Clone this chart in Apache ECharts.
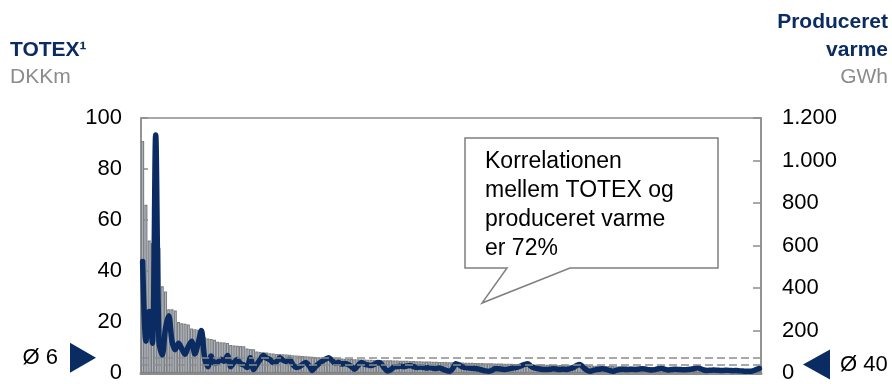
<!DOCTYPE html>
<html>
<head>
<meta charset="utf-8">
<script src="https://cdn.jsdelivr.net/npm/echarts@6/dist/echarts.min.js"></script>
<style>
  html, body { margin: 0; padding: 0; background: #ffffff; }
  #chart { width: 892px; height: 384px; }
</style>
</head>
<body>
<div id="chart"></div>
<script>
// TOTEX per selskab (DKKm), sorteret faldende
const totex = [
  91, 66, 52, 51, 50, 49, 34, 32, 25, 25,
  24.5, 20, 19.5, 19.3, 19, 17.5, 17.2, 17, 14.5, 14,
  13.5, 13.3, 13, 12.3, 12.1, 12, 11.8, 11, 10.8, 10.7,
  10.6, 10.5, 9.6, 9.4, 9.3, 8.4, 8.2, 8.1, 8.0, 7.7,
  7.6, 7.5, 7.5, 7.4, 7.3, 7.2, 7.0, 6.9, 6.8, 6.7,
  6.6, 6.5, 6.4, 6.3, 6.2, 6.1, 6.0, 5.9, 5.9, 5.8,
  5.7, 5.7, 5.6, 5.5, 5.5, 5.4, 5.4, 5.3, 5.3, 5.2,
  5.2, 5.1, 5.1, 5.1, 5.0, 5.0, 5.0, 4.9, 4.9, 4.8,
  4.8, 4.8, 4.7, 4.7, 4.6, 4.6, 4.5, 4.5, 4.5, 4.4,
  4.4, 4.3, 4.3, 4.3, 4.2, 4.2, 4.2, 4.1, 4.1, 4.0,
  4.0, 4.0, 3.9, 3.9, 3.9, 3.8, 3.8, 3.8, 3.7, 3.7,
  3.7, 3.6, 3.6, 3.6, 3.5, 3.5, 3.5, 3.4, 3.4, 3.4,
  3.3, 3.3, 3.3, 3.2, 3.2, 3.2, 3.1, 3.1, 3.1, 3.0,
  3.0, 3.0, 3.0, 2.9, 2.9, 2.9, 2.9, 2.8, 2.8, 2.8,
  2.8, 2.7, 2.7, 2.7, 2.7, 2.6, 2.6, 2.6, 2.6, 2.5,
  2.5, 2.5, 2.5, 2.4, 2.4, 2.4, 2.4, 2.3, 2.3, 2.3,
  2.3, 2.2, 2.2, 2.2, 2.2, 2.1, 2.1, 2.1, 2.1, 2.0,
  2.0, 2.0, 2.0, 1.9, 1.9, 1.9, 1.8, 1.8, 1.8, 1.7,
  1.7, 1.6, 1.6, 1.5, 1.5, 1.4, 1.3, 1.2, 1.0, 0.8
];

// Produceret varme per selskab (GWh), samme rækkefølge
const varme = [
  525, 150, 290, 140, 1120, 150, 85, 210, 270, 150,
  110, 140, 115, 88, 125, 150, 90, 140, 200, 70,
  30, 80, 45, 50, 65, 55, 82, 30, 50, 63,
  44, 38, 26, 72, 16, 40, 63, 82, 70, 63,
  49, 52, 72, 60, 54, 63, 40, 26, 30, 40,
  50, 35, 12, 30, 44, 55, 65, 72, 60, 45,
  50, 42, 45, 40, 30, 18, 35, 49, 42, 38,
  35, 40, 49, 45, 25, 10, 15, 28, 30, 32,
  30, 33, 35, 30, 26, 28, 26, 24, 26, 22,
  21, 24, 18, 12, 8, 20, 44, 38, 28, 26,
  24, 22, 21, 18, 14, 10, 8, 12, 21, 20,
  18, 16, 18, 22, 25, 28, 34, 40, 44, 32,
  24, 21, 18, 16, 16, 18, 20, 18, 17, 18,
  16, 20, 26, 35, 40, 28, 14, 8, 12, 16,
  18, 20, 17, 12, 8, 12, 16, 18, 16, 17,
  18, 16, 18, 20, 19, 16, 14, 16, 20, 22,
  18, 14, 16, 18, 17, 16, 15, 16, 18, 20,
  25, 20, 14, 12, 13, 14, 13, 12, 12, 13,
  12, 11, 12, 10, 9, 8, 8, 10, 16, 22
];

// Selskaber (nummereret)
const companies = totex.map((_, i) => String(i + 1));

// Akser
const totexTicks = [0, 20, 40, 60, 80, 100];
const varmeTicks = [0, 200, 400, 600, 800, 1000, 1200];

// Gennemsnit
const avgTotex = 6;
const avgVarme = 40;

const calloutLines = ['Korrelationen', 'mellem TOTEX og', 'produceret varme', 'er 72%'];

const NAVY = '#0b2c62';
const GREY = '#8c8c8c';
const BAR_EDGE = '#7f7f7f';
const FONT = '"Liberation Sans", Arial, sans-serif';

const fmtThousands = v => String(v).replace(/\B(?=(\d{3})+(?!\d))/g, '.');

const chart = echarts.init(document.getElementById('chart'), null, { renderer: 'canvas' });

const option = {
  animation: false,
  backgroundColor: '#ffffff',
  grid: {
    left: 141, right: 131, top: 118, bottom: 8,
    show: true, borderColor: GREY, borderWidth: 1.5, backgroundColor: 'transparent'
  },
  xAxis: {
    type: 'category',
    data: companies,
    boundaryGap: true,
    axisLine: { show: true, lineStyle: { color: GREY, width: 3 } },
    axisTick: { show: false },
    axisLabel: { show: false },
    splitLine: { show: false }
  },
  yAxis: [
    {
      type: 'value', position: 'left',
      min: totexTicks[0], max: totexTicks[totexTicks.length - 1], interval: 20,
      axisLine: { show: true, lineStyle: { color: GREY, width: 1.5 } },
      axisTick: { show: true, inside: true, length: 7, lineStyle: { color: GREY, width: 1.5 } },
      axisLabel: { color: '#000', fontSize: 22, fontFamily: FONT, margin: 19 },
      splitLine: { show: false }
    },
    {
      type: 'value', position: 'right',
      min: varmeTicks[0], max: varmeTicks[varmeTicks.length - 1], interval: 200,
      axisLine: { show: true, lineStyle: { color: GREY, width: 1.5 } },
      axisTick: { show: true, inside: true, length: 8, lineStyle: { color: GREY, width: 1.5 } },
      axisLabel: { color: '#000', fontSize: 22, fontFamily: FONT, margin: 21, formatter: fmtThousands },
      splitLine: { show: false }
    }
  ],
  series: [
    {
      name: 'Gns. TOTEX', type: 'line', yAxisIndex: 0, z: 1,
      data: companies.map(() => null), showSymbol: false, silent: true,
      markLine: {
        silent: true, symbol: 'none', label: { show: false },
        lineStyle: { color: GREY, type: [8, 4], width: 1.5 },
        data: [{ yAxis: avgTotex }]
      }
    },
    {
      name: 'Gns. varme', type: 'line', yAxisIndex: 1, z: 1,
      data: companies.map(() => null), showSymbol: false, silent: true,
      markLine: {
        silent: true, symbol: 'none', label: { show: false },
        lineStyle: { color: GREY, type: [8, 4], width: 1.5 },
        data: [{ yAxis: avgVarme }]
      }
    },
    {
      name: 'TOTEX', type: 'bar', yAxisIndex: 0, z: 2,
      data: totex,
      barCategoryGap: '5%',
      itemStyle: { color: '#b9cde6', borderColor: BAR_EDGE, borderWidth: 1.2 }
    },
    {
      name: 'Produceret varme', type: 'line', yAxisIndex: 1, z: 3,
      data: varme, smooth: 0.3, showSymbol: false,
      lineStyle: { color: NAVY, width: 5.5, cap: 'round', join: 'round' }
    }
  ],
  graphic: [
    { type: 'text', left: 10, top: 40, style: { text: 'TOTEX¹', font: 'bold 21px ' + FONT, fill: NAVY } },
    { type: 'text', left: 10, top: 67, style: { text: 'DKKm', font: '21px ' + FONT, fill: '#8c8c8c' } },
    { type: 'text', right: 4, top: 12, style: { text: 'Produceret', font: 'bold 21px ' + FONT, fill: NAVY, align: 'right' } },
    { type: 'text', right: 4, top: 40, style: { text: 'varme', font: 'bold 21px ' + FONT, fill: NAVY, align: 'right' } },
    { type: 'text', right: 4, top: 67, style: { text: 'GWh', font: '21px ' + FONT, fill: '#8c8c8c', align: 'right' } },
    {
      type: 'polygon', z: 10,
      shape: { points: [[465, 138], [718, 138], [718, 268], [570, 268], [482, 303], [507, 268], [465, 268]] },
      style: { fill: '#ffffff', stroke: '#7f7f7f', lineWidth: 1.5 }
    },
    {
      type: 'text', z: 11, left: 485, top: 147,
      style: { text: calloutLines.join('\n'), font: '23px ' + FONT, fill: '#000', lineHeight: 29 }
    }
  ]
};

chart.setOption(option);

// Markører for gennemsnit ved akserne
const yL = chart.convertToPixel({ yAxisIndex: 0 }, avgTotex);
const yR = chart.convertToPixel({ yAxisIndex: 1 }, avgVarme);
chart.setOption({
  graphic: option.graphic.concat([
    { type: 'polygon', shape: { points: [[70, yL - 15], [70, yL + 15], [96, yL]] }, style: { fill: NAVY } },
    { type: 'text', x: 58, y: yL, style: { text: 'Ø 6', font: '22px ' + FONT, fill: '#000', align: 'right', verticalAlign: 'middle' } },
    { type: 'polygon', shape: { points: [[830, yR - 15], [830, yR + 15], [803, yR]] }, style: { fill: NAVY } },
    { type: 'text', x: 840, y: yR, style: { text: 'Ø 40', font: '22px ' + FONT, fill: '#000', align: 'left', verticalAlign: 'middle' } }
  ])
});
</script>
</body>
</html>
